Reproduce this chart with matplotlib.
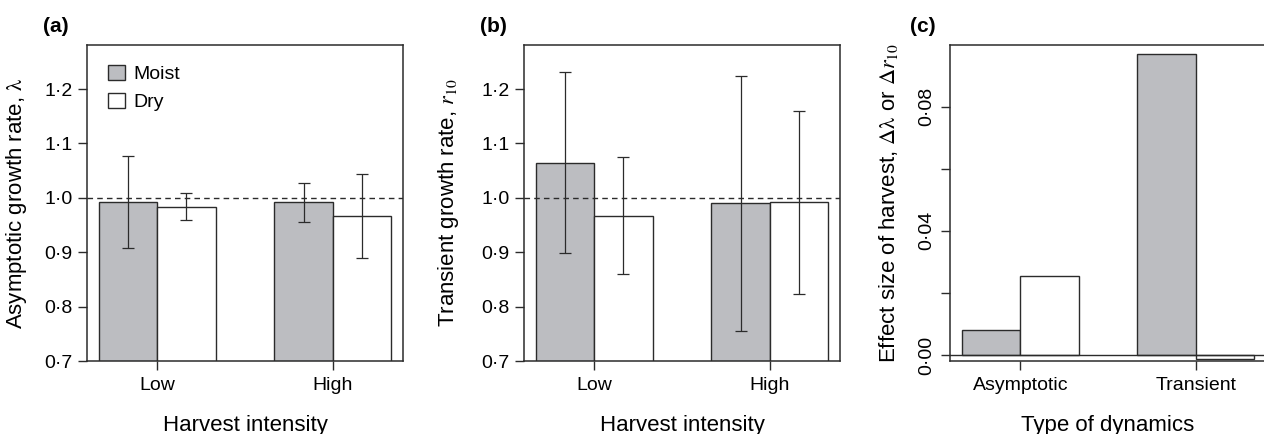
import matplotlib
matplotlib.use("Agg")
import matplotlib.pyplot as plt
from matplotlib.patches import Patch
import numpy as np

plt.rcParams["font.family"] = ["Liberation Sans", "DejaVu Sans"]
plt.rcParams["mathtext.fontset"] = "stix"

# 数据
intensity = ["Low", "High"]
a_moist = [0.992, 0.992]
a_moist_lo = [0.907, 0.955]
a_moist_hi = [1.076, 1.028]
a_dry = [0.984, 0.966]
a_dry_lo = [0.959, 0.889]
a_dry_hi = [1.008, 1.044]

b_moist = [1.064, 0.990]
b_moist_lo = [0.898, 0.756]
b_moist_hi = [1.232, 1.224]
b_dry = [0.967, 0.992]
b_dry_lo = [0.860, 0.824]
b_dry_hi = [1.075, 1.159]

dynamics = ["Asymptotic", "Transient"]
c_moist = [0.008, 0.097]
c_dry = [0.0253, -0.0014]

grey = "#bcbdc1"
dark = "#2b2b2b"
tick_fs = 14
label_fs = 16

fig = plt.figure(figsize=(12.64, 4.34), dpi=100)
W, H = 1264, 434
def add_ax(left_px):
    return fig.add_axes([left_px / W, 73 / H, 316 / W, 316 / H])

ax_a = add_ax(87)
ax_b = add_ax(524)
ax_c = add_ax(950)

centers = np.array([1.0, 4.0])


def style_ax(ax):
    for s in ax.spines.values():
        s.set_color(dark)
        s.set_linewidth(1.1)
    ax.tick_params(direction="out", length=6.5, width=1.0, color=dark,
                   labelsize=tick_fs, pad=4)
    ax.set_xlim(-0.2, 5.2)


def fmt(v, nd):
    return f"{v:.{nd}f}".replace(".", "·")


def growth_panel(ax, moist, mlo, mhi, dry, dlo, dhi, ylabel, lab_x):
    style_ax(ax)
    m = np.array(moist)
    d = np.array(dry)
    ax.bar(centers - 0.5, m, width=1.0, color=grey, edgecolor=dark, linewidth=1.0, zorder=2)
    ax.bar(centers + 0.5, d, width=1.0, color="white", edgecolor=dark, linewidth=1.0, zorder=2)
    ax.errorbar(centers - 0.5, m, yerr=[m - np.array(mlo), np.array(mhi) - m],
                fmt="none", ecolor=dark, elinewidth=0.9, capsize=4, capthick=0.9, zorder=3)
    ax.errorbar(centers + 0.5, d, yerr=[d - np.array(dlo), np.array(dhi) - d],
                fmt="none", ecolor=dark, elinewidth=0.9, capsize=4, capthick=0.9, zorder=3)
    ax.axhline(1.0, color=dark, linestyle=(0, (4, 3)), linewidth=1.0, zorder=4)
    ax.set_ylim(0.7, 1.281)
    yt = [0.7, 0.8, 0.9, 1.0, 1.1, 1.2]
    ax.set_yticks(yt)
    ax.set_yticklabels([fmt(v, 1) for v in yt])
    ax.set_xticks(centers)
    ax.set_xticklabels(intensity)
    ax.tick_params(axis="x", pad=5)
    ax.set_xlabel("Harvest intensity", fontsize=label_fs)
    ax.xaxis.set_label_coords(0.5, -0.17)
    ax.set_ylabel(ylabel, fontsize=label_fs)
    ax.yaxis.set_label_coords(lab_x, 0.5)


growth_panel(ax_a, a_moist, a_moist_lo, a_moist_hi, a_dry, a_dry_lo, a_dry_hi,
             r"Asymptotic growth rate, $\mathrm{\lambda}$", -0.184)
growth_panel(ax_b, b_moist, b_moist_lo, b_moist_hi, b_dry, b_dry_lo, b_dry_hi,
             r"Transient growth rate, $r_{10}$", -0.2)

handles = [Patch(facecolor=grey, edgecolor=dark, linewidth=1.0, label="Moist"),
           Patch(facecolor="white", edgecolor=dark, linewidth=1.0, label="Dry")]
ax_a.legend(handles=handles, loc="upper left", bbox_to_anchor=(0.03, 0.975),
            frameon=False, fontsize=tick_fs, handlelength=0.85, handleheight=0.85,
            handletextpad=0.45, labelspacing=0.5, borderaxespad=0.2)

# (c) 效应量
style_ax(ax_c)
ax_c.spines["right"].set_visible(False)
ax_c.bar(centers - 0.5, c_moist, width=1.0, color=grey, edgecolor=dark, linewidth=1.0, zorder=2)
ax_c.bar(centers + 0.5, c_dry, width=1.0, color="white", edgecolor=dark, linewidth=1.0, zorder=2)
ax_c.axhline(0.0, color=dark, linewidth=1.0, zorder=4)
ax_c.set_ylim(-0.00194, 0.0999)
yt_c = [0.0, 0.02, 0.04, 0.06, 0.08]
ax_c.set_yticks(yt_c)
ax_c.set_yticklabels([fmt(v, 2) if i % 2 == 0 else "" for i, v in enumerate(yt_c)],
                     rotation=90, va="center")
ax_c.set_xticks(centers)
ax_c.set_xticklabels(dynamics)
ax_c.tick_params(axis="x", pad=5)
ax_c.set_xlabel("Type of dynamics", fontsize=label_fs)
ax_c.xaxis.set_label_coords(0.5, -0.17)
ax_c.set_ylabel(r"Effect size of harvest, $\Delta\mathrm{\lambda}$ or $\Delta r_{10}$",
                fontsize=label_fs)
ax_c.yaxis.set_label_coords(-0.158, 0.5)

for x_px, lab in [(43, "(a)"), (480, "(b)"), (910, "(c)")]:
    fig.text(x_px / W, 1 - 27 / H, lab, fontsize=15, fontweight="bold",
             ha="left", va="center")

fig.savefig("out.png", dpi=100)
